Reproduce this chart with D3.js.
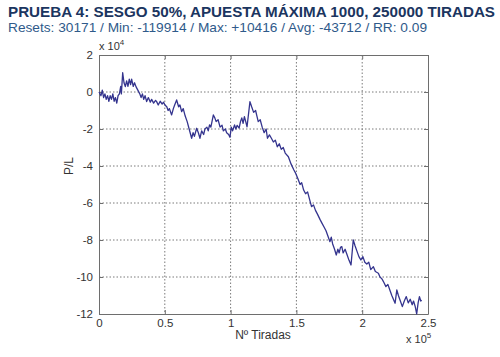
<!DOCTYPE html>
<html><head><meta charset="utf-8">
<script src="https://cdn.jsdelivr.net/npm/d3@7"></script>
<style>body{margin:0;background:#fff}svg{display:block}</style>
</head><body>
<script>
const title = "PRUEBA 4: SESGO 50%, APUESTA MÁXIMA 1000, 250000 TIRADAS";
const subtitle = "Resets: 30171 / Min: -119914 / Max: +10416 / Avg: -43712 / RR: 0.09";
const xTicks = [0, 50000, 100000, 150000, 200000, 250000];
const xTickLabels = ["0", "0.5", "1", "1.5", "2", "2.5"];
const yTicks = [20000, 0, -20000, -40000, -60000, -80000, -100000, -120000];
const yTickLabels = ["2", "0", "-2", "-4", "-6", "-8", "-10", "-12"];
// Nº tiradas (thousands)
const tiradasK = [0,1.5,2.5,3.5,4.5,5.5,6.5,7.5,8.5,9.5,10.5,11.5,12.5,13.5,14.5,15.5,16.5,17,18,19,20,21,22,23,24,24.8,26,27,28.1,29.5,31,32,33,34,35,36.2,37.5,39,40,41.5,43,43.8,45,46.5,48,49,50.1,51.5,52.5,53.5,55.2,56.5,57.5,59,60.5,61.5,62.8,64,65.5,67,68.5,70.4,71.5,72.5,74.2,75.5,76.7,78,79.5,80.5,82,83,84,85,86.9,88,89,90.5,92,93.5,94.5,96,97,98.5,99.5,100.5,101.5,103,104,105,106.5,107.5,108.5,109.5,110.5,111.5,112.5,114.7,116,117.5,119,120,121,122.5,124,125.5,127,128,129.5,131,132.5,134,135.5,137,138.5,140,141.5,143.9,146,148,149.5,151,152.8,154,155.5,157,158.5,160,161.5,163,164.5,166,168,169.5,171,172.5,174,175.5,176.5,177.5,179,180.3,181.5,182.5,183.5,184.5,185.5,187,188.5,190,191.5,193.2,194.5,196,197.5,199,200.5,202,203.5,205,206.5,208.5,210,212.3,213.5,215,216.5,218,219.5,221,222.5,225,226.3,227.5,229,230.5,232,233.5,235,236.5,238,239,240.3,241.4,242.5,243.5,244.5,245.2];
// P/L (thousands)
const plK = [0,-2,1,-3,-1,-4,-2,-5,-2,-4,-1,-5,-3,-6,-2,-1,3,-1,10.4,5,2.9,6,3,7,4,6.9,3,5,2.9,1,-1,-3,-1,-4,-2,-5.2,-3,-5.5,-4,-6,-4.5,-5.2,-7,-5,-6.5,-5.5,-7,-8,-10,-9,-12.4,-9,-7,-4.3,-8,-7,-10.6,-9,-13,-16,-20,-25,-22,-24,-19.6,-22,-25,-21,-23,-20,-19,-21,-17.8,-19,-12.4,-14,-16,-15,-19,-18,-21,-20,-22,-23,-24.5,-19,-21,-17.8,-20,-18,-19.5,-16,-14,-17,-13.3,-16,-18.8,-5.2,-8,-11,-10,-13,-16,-15,-19,-22,-20,-25,-23.2,-25,-27,-26,-29.6,-28,-31,-30,-33,-35,-39,-42,-44,-46.6,-50,-49,-53,-55,-54,-58,-62,-61,-64,-66,-69,-71,-73,-75,-78,-80.9,-78.5,-82,-85,-88.1,-85,-87,-84,-83.6,-87,-85,-88,-91,-93.5,-80,-83,-86,-89,-90.8,-89,-92,-93,-92,-96,-94.4,-97,-98,-100,-101,-103,-105.2,-104,-107,-110,-114.2,-107,-110,-113,-116,-113,-110.6,-114,-112,-115,-113,-116,-119.9,-114,-110.6,-113,-112.5];

const W = 500, H = 357;
const svg = d3.select("body").append("svg").attr("width", W).attr("height", H)
  .style("font-family", "Arial, 'Liberation Sans', sans-serif");

svg.append("text").attr("x", 8).attr("y", 17).attr("font-size", 15).attr("font-weight", "bold")
  .attr("fill", "#1b3560").attr("textLength", 487).attr("lengthAdjust", "spacingAndGlyphs").text(title);
svg.append("text").attr("x", 8).attr("y", 32).attr("font-size", 13.5)
  .attr("fill", "#2f5a8a").attr("textLength", 419).attr("lengthAdjust", "spacingAndGlyphs").text(subtitle);

const L = 99, R = 428, T = 55, B = 314;
const x = d3.scaleLinear().domain([0, 250000]).range([L, R]);
const y = d3.scaleLinear().domain([-120000, 20000]).range([B, T]);

const g = svg.append("g");
g.selectAll(".gx").data(xTicks.slice(1, -1)).join("line")
  .attr("x1", d => x(d)).attr("x2", d => x(d)).attr("y1", T).attr("y2", B)
  .attr("stroke", "#7a7a7a").attr("stroke-width", 1).attr("stroke-dasharray", "1.5,2");
g.selectAll(".gy").data(yTicks.slice(1, -1)).join("line")
  .attr("y1", d => y(d)).attr("y2", d => y(d)).attr("x1", L).attr("x2", R)
  .attr("stroke", "#7a7a7a").attr("stroke-width", 1).attr("stroke-dasharray", "1.5,2");

const fmtX = (d, i) => xTickLabels[i];
const fmtY = (d, i) => yTickLabels[i];
const ax = svg.append("g").attr("transform", `translate(0,${B})`)
  .call(d3.axisBottom(x).tickValues(xTicks).tickFormat(fmtX).tickSizeInner(-4).tickSizeOuter(0).tickPadding(5));
const axT = svg.append("g").attr("transform", `translate(0,${T})`)
  .call(d3.axisTop(x).tickValues(xTicks).tickFormat("").tickSizeInner(-4).tickSizeOuter(0));
const ay = svg.append("g").attr("transform", `translate(${L},0)`)
  .call(d3.axisLeft(y).tickValues(yTicks).tickFormat(fmtY).tickSizeInner(-4).tickSizeOuter(0).tickPadding(6));
const ayR = svg.append("g").attr("transform", `translate(${R},0)`)
  .call(d3.axisRight(y).tickValues(yTicks).tickFormat("").tickSizeInner(-4).tickSizeOuter(0));
[ax, axT, ay, ayR].forEach(a => {
  a.selectAll("path").attr("stroke", "#6e6e6e");
  a.selectAll("line").attr("stroke", "#6e6e6e");
  a.selectAll("text").attr("font-size", 11.5).attr("fill", "#333").style("font-family", "Arial, 'Liberation Sans', sans-serif");
});

const pts = tiradasK.map((t, i) => [t * 1000, plK[i] * 1000]);
svg.append("path").datum(pts)
  .attr("d", d3.line().x(d => x(d[0])).y(d => y(d[1])))
  .attr("fill", "none").attr("stroke", "#34348e").attr("stroke-width", 1.3).attr("stroke-linejoin", "round");

const ex4 = svg.append("text").attr("x", 99).attr("y", 50).attr("font-size", 11).attr("fill", "#333");
ex4.append("tspan").text("x 10");
ex4.append("tspan").attr("dy", -5).attr("font-size", 8).text("4");
const ex5 = svg.append("text").attr("x", 406).attr("y", 343).attr("font-size", 11).attr("fill", "#333");
ex5.append("tspan").text("x 10");
ex5.append("tspan").attr("dy", -5).attr("font-size", 8).text("5");
svg.append("text").attr("x", 263).attr("y", 339).attr("text-anchor", "middle").attr("font-size", 12)
  .attr("fill", "#333").text("Nº Tiradas");
svg.append("text").attr("transform", "translate(73,166) rotate(-90)").attr("text-anchor", "middle")
  .attr("font-size", 12).attr("fill", "#333").text("P/L");
</script>
</body></html>
